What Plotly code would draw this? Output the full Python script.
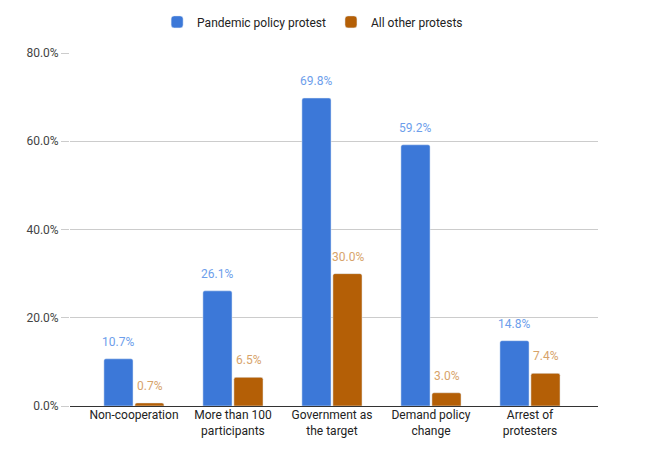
import plotly.graph_objects as go

categories = ["Non-cooperation", "More than 100<br>participants", "Government as<br>the target",
              "Demand policy<br>change", "Arrest of<br>protesters"]
pandemic = [10.7, 26.1, 69.8, 59.2, 14.8]
other = [0.7, 6.5, 30.0, 3.0, 7.4]
series_names = ["Pandemic policy protest", "All other protests"]
tick_vals = [0, 20, 40, 60, 80]
tick_text = ["0.0%", "20.0%", "40.0%", "60.0%", "80.0%"]

BLUE = "#3c78d8"
ORANGE = "#b45f06"
BLUE_LBL = "#6d9eeb"
ORANGE_LBL = "#d7a36a"

x_idx = list(range(len(categories)))

fig = go.Figure()
fig.add_trace(go.Bar(x=x_idx, y=pandemic, name=series_names[0], marker_color=BLUE))
fig.add_trace(go.Bar(x=x_idx, y=other, name=series_names[1], marker_color=ORANGE))

annotations = []
for i, v in enumerate(pandemic):
    annotations.append(dict(x=i, y=v, xref="x", yref="y", text=f"{v:.1f}%", showarrow=False,
                            xshift=-16, yshift=17, font=dict(size=12, color=BLUE_LBL, family="Roboto, Arial")))
for i, v in enumerate(other):
    annotations.append(dict(x=i, y=v, xref="x", yref="y", text=f"{v:.1f}%", showarrow=False,
                            xshift=16, yshift=17, font=dict(size=12, color=ORANGE_LBL, family="Roboto, Arial")))

fig.update_layout(
    width=654, height=456,
    margin=dict(l=70, r=56, t=53, b=50, autoexpand=False),
    paper_bgcolor="white", plot_bgcolor="white",
    barmode="group", bargap=0.374, bargroupgap=0.06, barcornerradius=2,
    font=dict(family="Roboto, Arial", size=12, color="#222222"),
    legend=dict(orientation="h", x=0.478, xanchor="center", xref="container",
                y=0.952, yanchor="middle", yref="container",
                font=dict(size=12, color="#222222"), itemwidth=30),
    annotations=annotations,
    showlegend=True,
)
fig.update_xaxes(
    tickmode="array", tickvals=x_idx, ticktext=categories,
    range=[-0.646, 4.687], showgrid=False, zeroline=False,
    showline=False, ticks="", tickfont=dict(size=12, color="#222222"),
)
fig.update_yaxes(
    range=[0, 80], tickmode="array", tickvals=tick_vals, ticktext=tick_text,
    showgrid=True, gridcolor="#cccccc", gridwidth=1,
    zeroline=True, zerolinecolor="#333333", zerolinewidth=1,
    ticks="outside", ticklen=8, tickcolor="#cccccc",
    tickfont=dict(size=12, color="#444444"),
)

fig.write_html("out.html")
